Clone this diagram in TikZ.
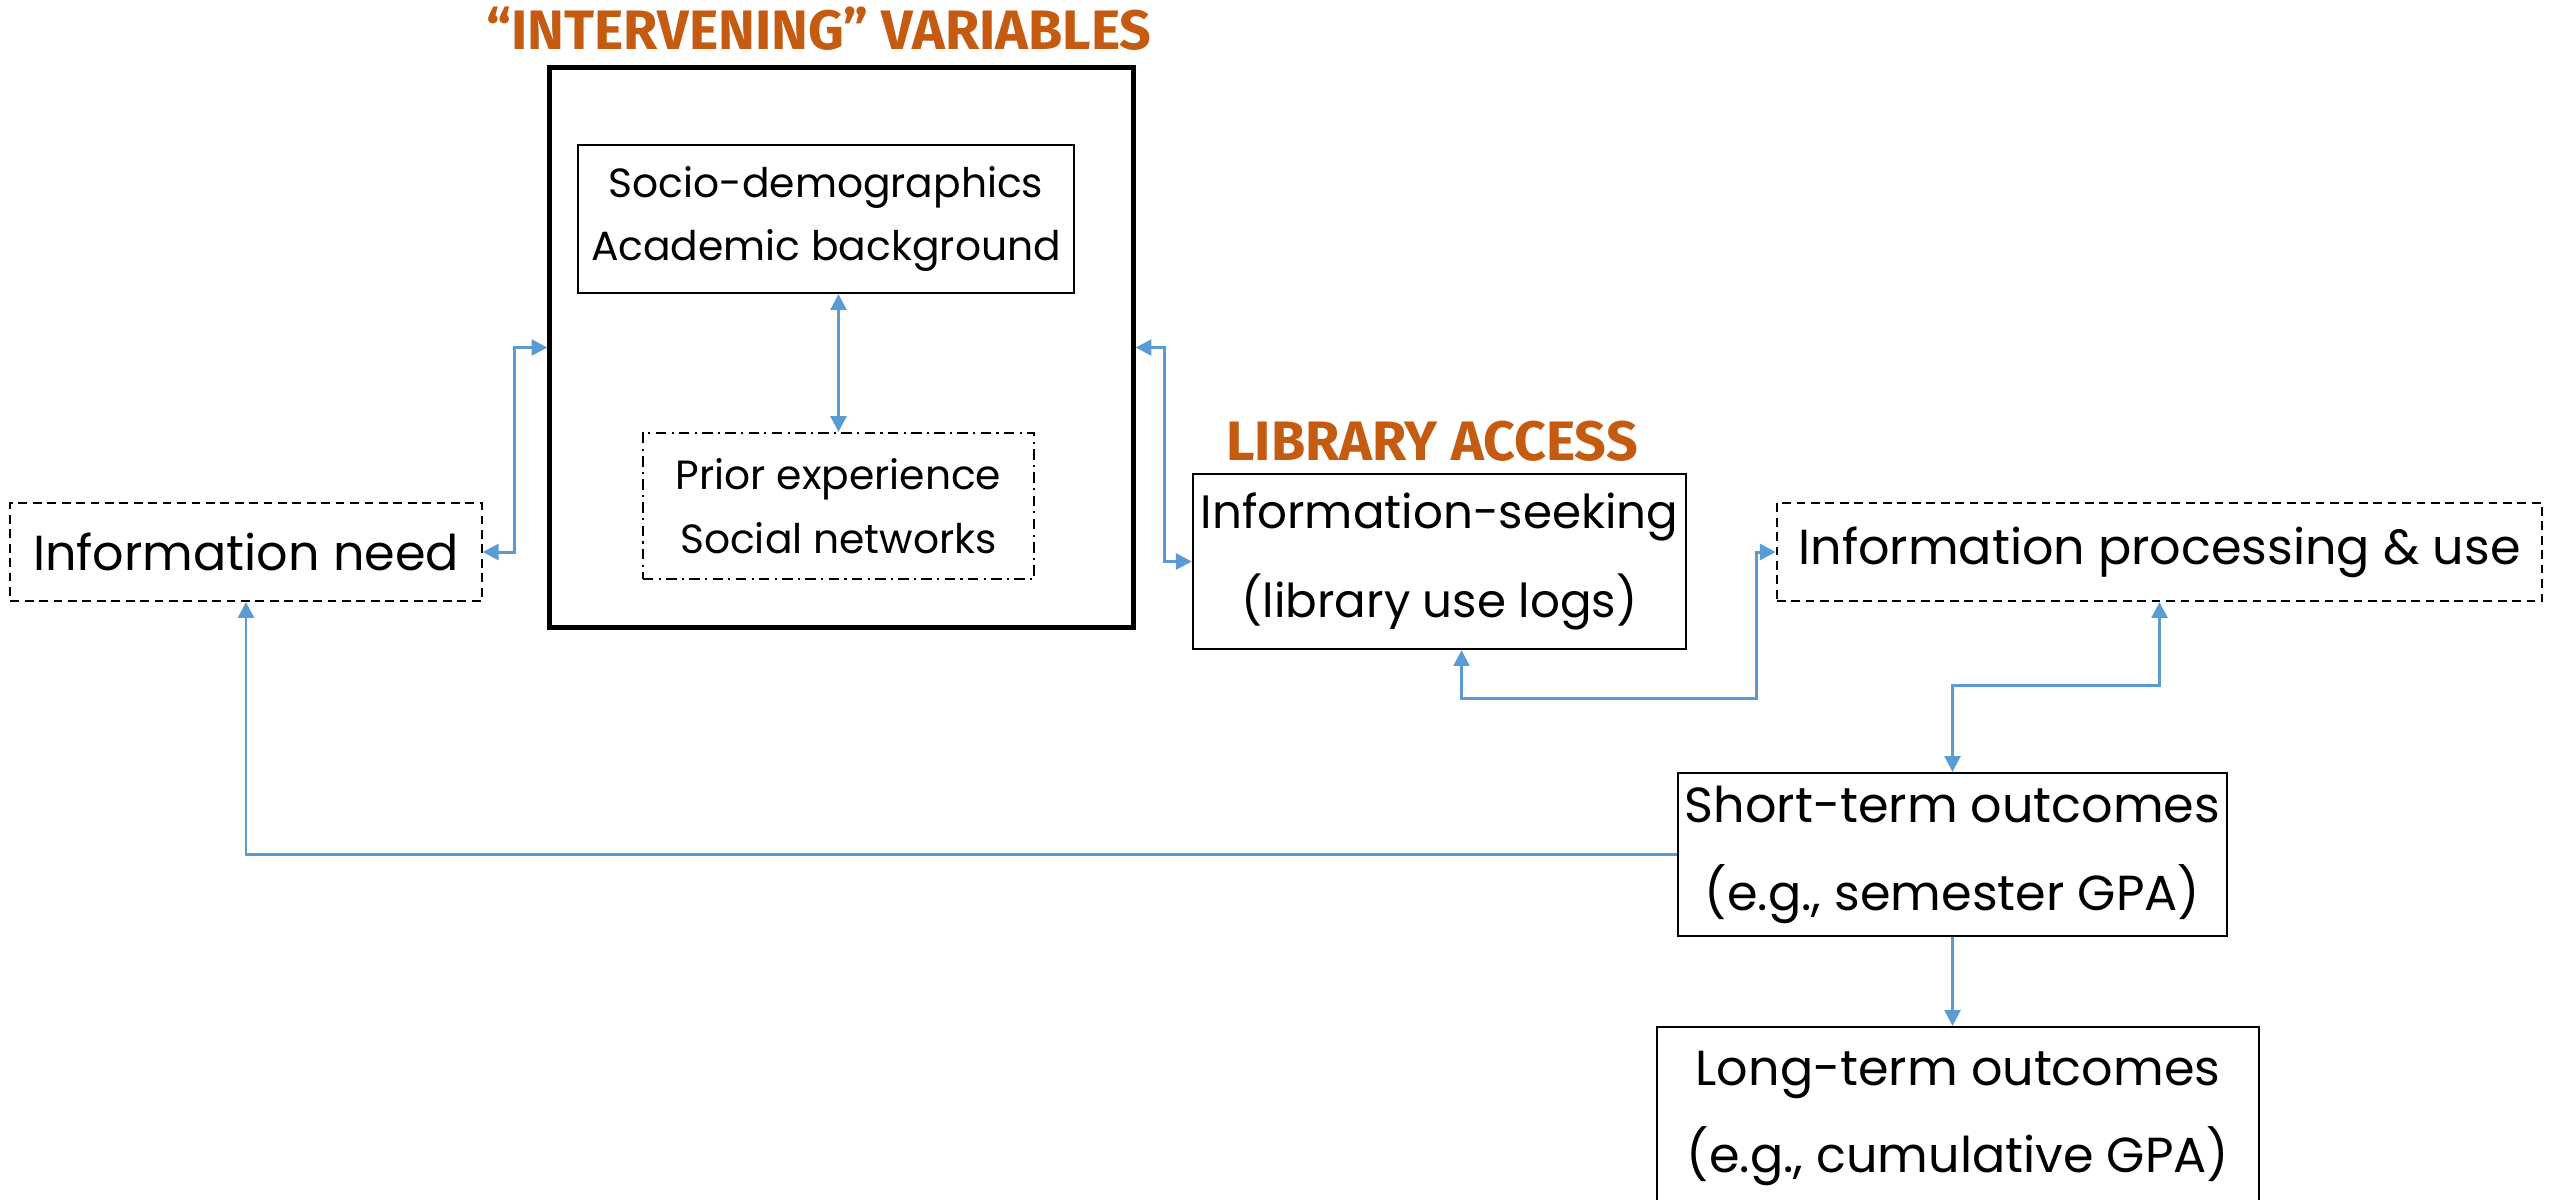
\documentclass[tikz,border=0pt]{standalone}
\usepackage{fontspec}
\setmainfont{Poppins}
\newfontfamily\headfont{Fira Sans}
\usepackage{tikz}
\usetikzlibrary{calc}
\usetikzlibrary{positioning}
\usetikzlibrary{arrows.meta}
\definecolor{linkblue}{RGB}{91,155,213}
\definecolor{headorange}{RGB}{197,90,17}
\newcommand\mainsize{\fontsize{14}{25}\selectfont}
\newcommand\seeksize{\fontsize{13.3}{25.5}\selectfont}
\newcommand\innersize{\fontsize{11.6}{18}\selectfont}

\begin{document}
\begin{tikzpicture}[x=0.01cm,y=-0.01cm,every node/.style = {align=center},
    box/.style = {draw,line width=0.6pt,inner sep=0pt},
    dashbox/.style = {box,dash pattern=on 2.5pt off 1.6pt},
    dotbox/.style = {box,dash pattern=on 3pt off 1.5pt on 0.6pt off 1.5pt},
    head/.style = {text=headorange,font=\headfont\bfseries\fontsize{15.8}{18}\selectfont},
    link/.style = {draw=linkblue,line width=0.85pt},
    >={Triangle[length=4.5pt,width=4.5pt]}]
\useasboundingbox (0,0) rectangle (2552,1199);
\node[dashbox,minimum width=4.71cm,minimum height=0.98cm,font=\mainsize] (need) at (246,552) {Information need};
\node[box,line width=1.4pt,minimum width=5.83cm,minimum height=5.59cm] (intv) at (841.5,347.5) {};
\node[box,minimum width=4.96cm,minimum height=1.48cm,font=\innersize] (socio) at (826,219) {Socio-demographics\\Academic background};
\node[dotbox,minimum width=3.91cm,minimum height=1.46cm,font=\innersize] (prior) at (838.5,506) {Prior experience\\Social networks};
\node[head] (intvhead) at (819,29) {“INTERVENING” VARIABLES};
\node[head] (acchead) at (1432,441) {LIBRARY ACCESS};
\node[box,minimum width=4.93cm,minimum height=1.75cm,font=\seeksize] (seek) at (1439.5,561.5) {Information-seeking\\(library use logs)};
\node[dashbox,minimum width=7.65cm,minimum height=0.98cm,font=\mainsize] (proc) at (2159.5,552) {Information processing \& use};
\node[box,minimum width=5.49cm,minimum height=1.63cm,font=\mainsize] (short) at (1952.5,854.5) {Short-term outcomes\\(e.g., semester GPA)};
\node[box,minimum width=6.02cm,minimum height=1.83cm,font=\mainsize] (long) at (1958,1118.5) {Long-term outcomes\\(e.g., cumulative GPA)};
% connectors
\draw [link, <->] (socio.south -| prior.north) -- (prior.north);
\draw [link, <->] (need.east) -- ++(32,0) |- (intv.west);
\draw [link, <->] (intv.east) -- ++(29,0) |- (seek.west);
\draw [link, <->] ($(seek.south)+(22,0)$) -- ++(0,48) -| ($(proc.west)+(-19,0)$) -- (proc.west);
\draw [link, <->] (proc.south) -- ++(0,83) -| (short.north);
\draw [link, ->] (short.west) -| (need.south);
\draw [link, ->] (short.south) -- (short.south |- long.north);
\end{tikzpicture}
\end{document}
